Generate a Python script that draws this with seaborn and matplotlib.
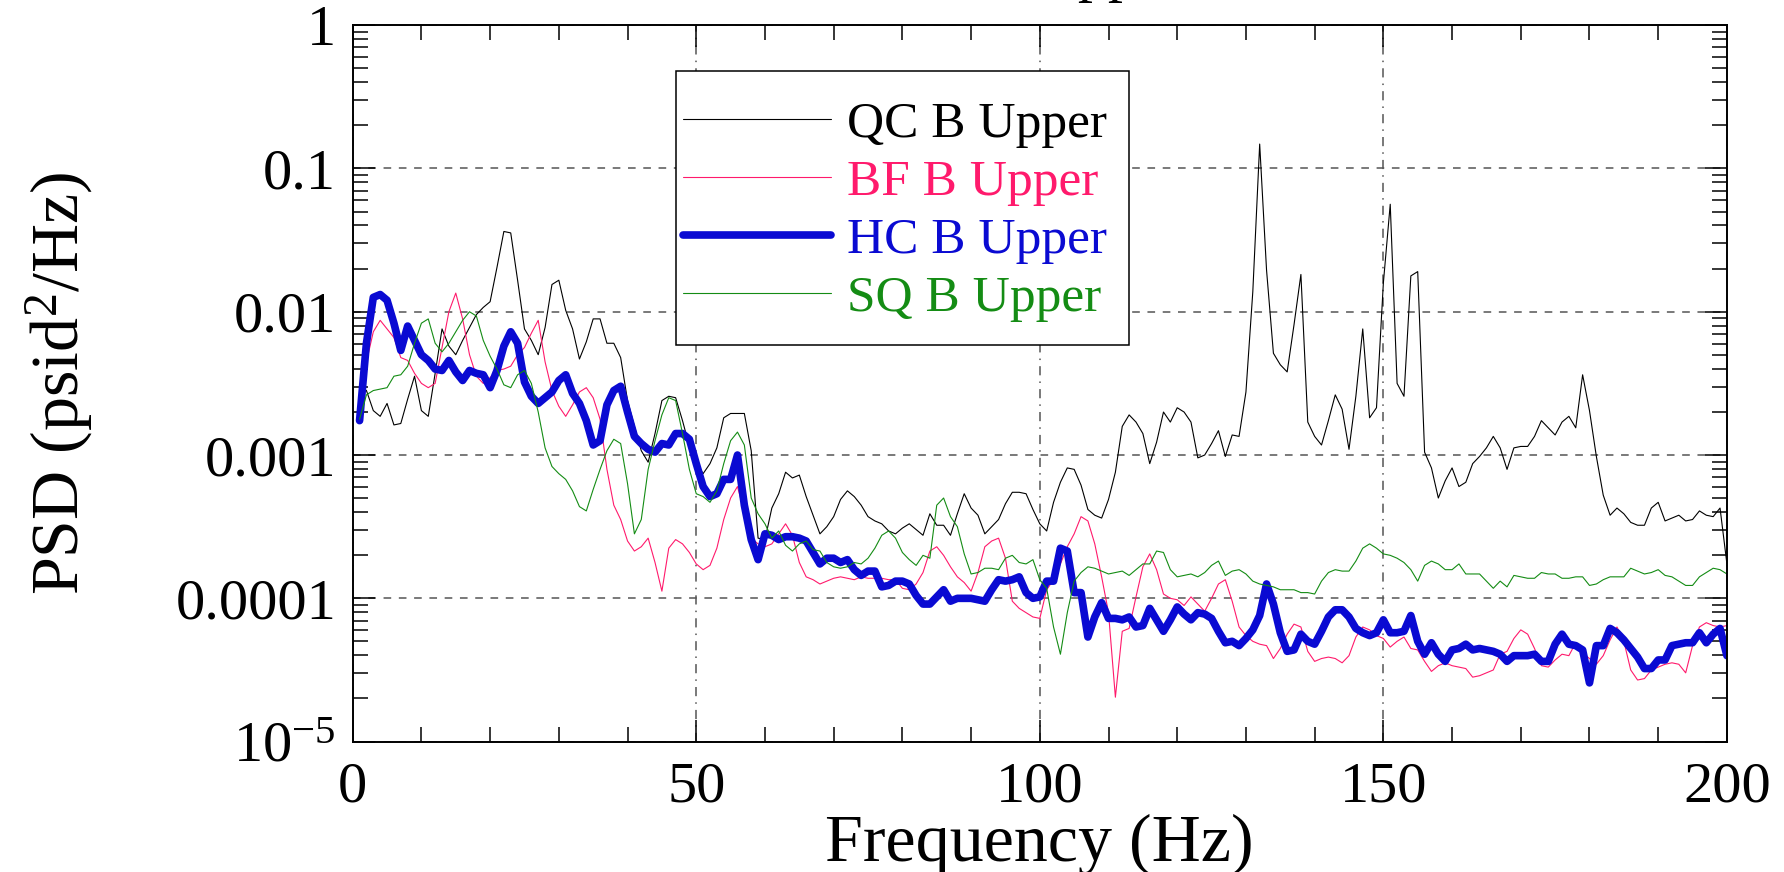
import numpy as np
import pandas as pd
import seaborn as sns
import matplotlib.pyplot as plt
import matplotlib.ticker as mticker
from matplotlib.patches import Rectangle

# frequency bins (Hz)
freq = np.arange(1, 201)

# PSD readings, stored as log10(psid^2/Hz)
qc_log10 = [
    -2.52, -2.55, -2.69, -2.73, -2.64, -2.79, -2.78, -2.61, -2.45, -2.69,
    -2.73, -2.43, -2.12, -2.24, -2.30, -2.20, -2.11, -2.02, -1.97, -1.93,
    -1.69, -1.44, -1.45, -1.78, -2.12, -2.20, -2.30, -2.11, -1.81, -1.78,
    -1.99, -2.12, -2.33, -2.21, -2.05, -2.05, -2.22, -2.22, -2.32, -2.62,
    -2.80, -2.97, -3.05, -2.85, -2.62, -2.59, -2.60, -2.76, -2.94, -3.05,
    -3.13, -3.06, -2.95, -2.74, -2.71, -2.71, -2.71, -2.97, -3.58, -3.59,
    -3.37, -3.27, -3.12, -3.16, -3.14, -3.29, -3.42, -3.55, -3.50, -3.43,
    -3.31, -3.25, -3.29, -3.35, -3.43, -3.46, -3.48, -3.53, -3.55, -3.51,
    -3.48, -3.52, -3.56, -3.41, -3.49, -3.49, -3.56, -3.41, -3.27, -3.37,
    -3.42, -3.55, -3.50, -3.45, -3.34, -3.26, -3.26, -3.27, -3.38, -3.48,
    -3.53, -3.33, -3.19, -3.09, -3.10, -3.21, -3.38, -3.42, -3.44, -3.31,
    -3.12, -2.80, -2.72, -2.77, -2.85, -3.06, -2.91, -2.70, -2.77, -2.67,
    -2.70, -2.77, -3.02, -3.00, -2.92, -2.83, -3.01, -2.86, -2.87, -2.56,
    -1.86, -0.83, -1.71, -2.29, -2.37, -2.42, -2.09, -1.74, -2.77, -2.87,
    -2.93, -2.76, -2.58, -2.68, -2.96, -2.59, -2.12, -2.74, -2.67, -1.80,
    -1.25, -2.50, -2.59, -1.75, -1.72, -2.98, -3.09, -3.30, -3.18, -3.09,
    -3.22, -3.19, -3.06, -3.01, -2.95, -2.87, -2.95, -3.10, -2.95, -2.94,
    -2.94, -2.87, -2.76, -2.81, -2.86, -2.77, -2.73, -2.81, -2.44, -2.69,
    -3.01, -3.28, -3.42, -3.37, -3.41, -3.47, -3.49, -3.49, -3.37, -3.33,
    -3.46, -3.44, -3.42, -3.46, -3.45, -3.39, -3.42, -3.43, -3.37, -3.76,
]

bf_log10 = [
    -2.65, -2.35, -2.14, -2.06, -2.12, -2.18, -2.32, -2.34, -2.43, -2.50,
    -2.53, -2.50, -2.25, -2.00, -1.87, -2.05, -2.30, -2.45, -2.50, -2.46,
    -2.41, -2.40, -2.38, -2.30, -2.25, -2.15, -2.06, -2.35, -2.55, -2.66,
    -2.73, -2.65, -2.56, -2.53, -2.60, -2.75, -3.10, -3.35, -3.45, -3.60,
    -3.67, -3.64, -3.58, -3.75, -3.95, -3.65, -3.59, -3.62, -3.68, -3.76,
    -3.80, -3.77, -3.65, -3.45, -3.30, -3.22, -3.40, -3.58, -3.62, -3.64,
    -3.62, -3.55, -3.48, -3.56, -3.75, -3.85, -3.87, -3.90, -3.88, -3.86,
    -3.85, -3.86, -3.87, -3.85, -3.86, -3.86, -3.86, -3.87, -3.87, -3.93,
    -3.94, -3.90, -3.82, -3.67, -3.64, -3.70, -3.78, -3.85, -3.89, -3.95,
    -3.82, -3.64, -3.60, -3.58, -3.72, -4.02, -4.07, -4.10, -4.13, -4.14,
    -3.94, -3.87, -3.76, -3.64, -3.55, -3.43, -3.46, -3.62, -3.85, -4.10,
    -4.69, -4.23, -4.21, -3.99, -3.78, -3.69, -3.80, -3.97, -4.00, -4.01,
    -4.05, -3.99, -4.04, -4.09, -4.00, -3.90, -3.87, -4.02, -4.20, -4.26,
    -4.30, -4.32, -4.33, -4.42, -4.35, -4.25, -4.18, -4.20, -4.37, -4.44,
    -4.42, -4.41, -4.42, -4.45, -4.40, -4.27, -4.20, -4.22, -4.26, -4.28,
    -4.34, -4.30, -4.27, -4.35, -4.36, -4.44, -4.51, -4.47, -4.45, -4.47,
    -4.48, -4.49, -4.55, -4.54, -4.52, -4.50, -4.39, -4.37, -4.28, -4.22,
    -4.25, -4.35, -4.47, -4.48, -4.43, -4.39, -4.40, -4.31, -4.38, -4.42,
    -4.46, -4.40, -4.29, -4.20, -4.30, -4.50, -4.57, -4.56, -4.50, -4.48,
    -4.46, -4.45, -4.46, -4.52, -4.33, -4.20, -4.17, -4.19, -4.20, -4.19,
]

hc_log10 = [
    -2.76, -2.22, -1.90, -1.88, -1.92, -2.08, -2.27, -2.10, -2.20, -2.30,
    -2.34, -2.40, -2.41, -2.34, -2.42, -2.48, -2.41, -2.43, -2.44, -2.53,
    -2.41, -2.24, -2.14, -2.22, -2.49, -2.59, -2.64, -2.60, -2.56, -2.48,
    -2.44, -2.57, -2.64, -2.76, -2.93, -2.90, -2.65, -2.55, -2.52, -2.70,
    -2.87, -2.92, -2.96, -2.98, -2.92, -2.93, -2.85, -2.85, -2.89, -3.06,
    -3.22, -3.29, -3.27, -3.17, -3.17, -3.00, -3.35, -3.59, -3.73, -3.55,
    -3.56, -3.59, -3.57, -3.57, -3.58, -3.60, -3.68, -3.76, -3.72, -3.72,
    -3.75, -3.73, -3.80, -3.84, -3.81, -3.81, -3.92, -3.91, -3.88, -3.88,
    -3.90, -3.98, -4.04, -4.04, -3.99, -3.94, -4.02, -4.00, -4.00, -4.00,
    -4.01, -4.02, -3.94, -3.87, -3.88, -3.87, -3.85, -3.96, -4.00, -3.99,
    -3.88, -3.88, -3.65, -3.67, -3.96, -3.96, -4.27, -4.13, -4.03, -4.14,
    -4.14, -4.15, -4.13, -4.20, -4.19, -4.07, -4.15, -4.23, -4.15, -4.06,
    -4.11, -4.15, -4.10, -4.11, -4.14, -4.23, -4.31, -4.30, -4.33, -4.28,
    -4.22, -4.12, -3.90, -4.04, -4.24, -4.37, -4.36, -4.25, -4.30, -4.32,
    -4.23, -4.13, -4.08, -4.08, -4.13, -4.21, -4.24, -4.26, -4.24, -4.15,
    -4.24, -4.24, -4.23, -4.12, -4.30, -4.39, -4.31, -4.39, -4.44, -4.36,
    -4.35, -4.32, -4.36, -4.35, -4.36, -4.37, -4.39, -4.44, -4.40, -4.40,
    -4.40, -4.39, -4.44, -4.44, -4.32, -4.25, -4.32, -4.33, -4.36, -4.59,
    -4.33, -4.33, -4.21, -4.24, -4.29, -4.35, -4.41, -4.49, -4.49, -4.43,
    -4.43, -4.33, -4.32, -4.31, -4.31, -4.24, -4.31, -4.25, -4.21, -4.40,
]

sq_log10 = [
    -2.75, -2.58, -2.55, -2.54, -2.53, -2.45, -2.44, -2.38, -2.22, -2.08,
    -2.05, -2.22, -2.28, -2.22, -2.14, -2.06, -2.00, -2.03, -2.20, -2.31,
    -2.40, -2.51, -2.53, -2.44, -2.41, -2.50, -2.70, -2.95, -3.08, -3.13,
    -3.17, -3.25, -3.36, -3.39, -3.24, -3.10, -2.97, -2.89, -2.92, -3.20,
    -3.55, -3.45, -3.10, -2.90, -2.72, -2.60, -2.62, -2.85, -3.10, -3.27,
    -3.29, -3.33, -3.25, -3.06, -2.90, -2.84, -2.93, -3.30, -3.41, -3.48,
    -3.58, -3.53, -3.63, -3.67, -3.62, -3.60, -3.66, -3.67, -3.75, -3.78,
    -3.79, -3.78, -3.75, -3.76, -3.72, -3.65, -3.56, -3.53, -3.58, -3.68,
    -3.73, -3.77, -3.70, -3.72, -3.35, -3.30, -3.43, -3.50, -3.69, -3.83,
    -3.82, -3.79, -3.79, -3.80, -3.72, -3.70, -3.75, -3.76, -3.73, -3.87,
    -3.93, -4.20, -4.39, -4.10, -3.88, -3.82, -3.78, -3.79, -3.81, -3.83,
    -3.82, -3.81, -3.84, -3.80, -3.76, -3.76, -3.67, -3.68, -3.80, -3.85,
    -3.84, -3.83, -3.85, -3.82, -3.77, -3.74, -3.84, -3.81, -3.80, -3.83,
    -3.88, -3.90, -3.91, -3.92, -3.94, -3.94, -3.94, -3.96, -3.96, -3.97,
    -3.88, -3.82, -3.80, -3.81, -3.81, -3.74, -3.65, -3.62, -3.65, -3.69,
    -3.70, -3.72, -3.75, -3.80, -3.88, -3.77, -3.74, -3.76, -3.80, -3.80,
    -3.76, -3.83, -3.83, -3.83, -3.88, -3.93, -3.88, -3.92, -3.84, -3.85,
    -3.86, -3.86, -3.82, -3.83, -3.83, -3.86, -3.86, -3.85, -3.85, -3.91,
    -3.90, -3.87, -3.85, -3.85, -3.85, -3.79, -3.81, -3.83, -3.82, -3.80,
    -3.84, -3.85, -3.88, -3.91, -3.91, -3.85, -3.82, -3.79, -3.80, -3.83,
]

labels = ["QC B Upper", "BF B Upper", "HC B Upper", "SQ B Upper"]
colors = ["#000000", "#ff1a6c", "#0a0ad2", "#148c14"]
widths = [0.8, 0.8, 5.5, 0.8]

sns.set_style("ticks")
plt.rcParams['font.family'] = ['Liberation Serif', 'DejaVu Serif']
plt.rcParams['mathtext.fontset'] = 'custom'
plt.rcParams['mathtext.rm'] = 'Liberation Serif'
plt.rcParams['mathtext.it'] = 'Liberation Serif:italic'
plt.rcParams['text.color'] = 'black'
plt.rcParams['axes.labelcolor'] = 'black'

fig = plt.figure(figsize=(17.84, 8.72), dpi=100)
ax = fig.add_axes([0.1977, 0.1495, 0.7703, 0.8217])

for lab, vals, col, lw in zip(labels, [qc_log10, bf_log10, hc_log10, sq_log10], colors, widths):
    psd = 10.0 ** np.array(vals)
    sns.lineplot(x=freq, y=psd, ax=ax, color=col, lw=lw, label=lab)

ax.set_yscale('log')
ax.set_xlim(0, 200)
ax.set_ylim(1e-5, 1)

ax.xaxis.set_major_locator(mticker.MultipleLocator(50))
ax.xaxis.set_minor_locator(mticker.MultipleLocator(10))
ax.yaxis.set_major_locator(mticker.LogLocator(base=10, numticks=10))
ax.yaxis.set_minor_locator(mticker.LogLocator(base=10, subs=np.arange(2, 10), numticks=20))
ylab = {1: '1', 0.1: '0.1', 0.01: '0.01', 0.001: '0.001', 1e-4: '0.0001', 1e-5: '$10^{-5}$'}
ax.yaxis.set_major_formatter(mticker.FuncFormatter(
    lambda v, p: next((s for k, s in ylab.items() if abs(v - k) < k * 1e-6), '')))
ax.yaxis.set_minor_formatter(mticker.NullFormatter())

ax.grid(which='major', axis='y', color='#555555', lw=1.1, ls=(0, (5, 5)))
ax.grid(which='major', axis='x', color='#555555', lw=1.1, ls=(0, (6, 4, 1, 4)))
ax.tick_params(which='both', direction='in', top=True, right=True, width=1.1,
               colors='black', labelcolor='black')
ax.tick_params(which='major', length=16, labelsize=42)
ax.tick_params(axis='y', which='major', pad=12)
ax.tick_params(axis='x', which='major', pad=14)
ax.tick_params(which='minor', length=11)
for sp in ax.spines.values():
    sp.set_color('black')
    sp.set_linewidth(1.4)

ax.set_xlabel('Frequency (Hz)', fontsize=49, labelpad=0)
ax.set_ylabel('PSD (psid$^2$/Hz)', fontsize=49, labelpad=57)

# legend frame drawn as its own box, entries placed inside it
ax.add_patch(Rectangle((0.2351, 0.5539), 0.3295, 0.3827, transform=ax.transAxes,
                       facecolor='white', edgecolor='black', lw=1.1, zorder=4))
leg = ax.legend(loc='upper left', bbox_to_anchor=(0.2400, 0.8934), borderaxespad=0,
                frameon=False, fontsize=37, handlelength=2.88, handletextpad=0.33,
                labelspacing=0.21, borderpad=0)
leg.set_zorder(5)
for txt, line in zip(leg.get_texts(), leg.get_lines()):
    txt.set_color(line.get_color())

# title sits above the canvas; only the descenders show
fig.text(0.664, 1.0115, 'B Upper', ha='right', va='baseline', fontsize=43)

fig.savefig('out.png', dpi=100)
